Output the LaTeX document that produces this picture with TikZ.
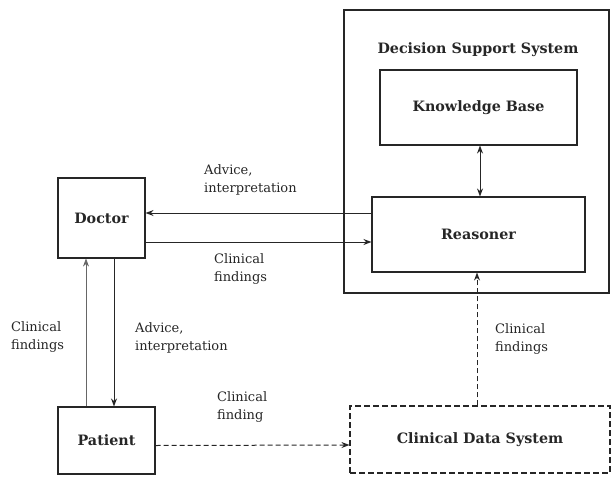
\documentclass[tikz,border=0pt]{standalone}
\usepackage{fontspec}
\setmainfont{DejaVu Serif}
\usetikzlibrary{arrows.meta}
\begin{document}
\begin{tikzpicture}[x=1pt,y=-1pt,
  box/.style={draw=black!85,line width=1.1pt,minimum width=#1,inner sep=0pt},
  boxlabel/.style={font=\fontsize{14.3}{16}\selectfont\bfseries,text=black!85},
  lbl/.style={font=\fontsize{13}{18.5}\selectfont,text=black!85,align=left,anchor=west,inner sep=0pt},
  arr/.style={draw=black!85,line width=1pt,-{Stealth[length=8pt,width=6pt]}},
  darr/.style={arr,dashed,dash pattern=on 5pt off 3pt}]
\useasboundingbox (0,0) rectangle (613,479);
% outer DSS
\node[box=265pt,minimum height=283pt,line width=1.3pt] (DSS) at (476.5,151.5) {};
\node[boxlabel] (title) at (478,50) {Decision Support System};
\node[box=197pt,minimum height=75pt,boxlabel] (KB) at (478.5,107.5) {Knowledge Base};
\node[box=213pt,minimum height=75pt,boxlabel] (R) at (478.5,234.5) {Reasoner};
\node[box=87pt,minimum height=80pt,boxlabel] (D) at (101.5,218) {Doctor};
\node[box=97pt,minimum height=67pt,boxlabel] (P) at (106.5,440.5) {Patient};
\node[box=260pt,minimum height=67pt,boxlabel,dashed,dash pattern=on 6pt off 3pt] (C) at (480,439.5) {Clinical Data System};
% arrows
\draw[arr,{Stealth[length=8pt,width=6pt]}-{Stealth[length=8pt,width=6pt]},line width=0.9pt] ([xshift=1.5pt]KB.south) -- ([xshift=1.5pt]R.north);
\draw[arr] ([yshift=21.5pt]R.west) -- ([yshift=5pt]D.east);
\draw[arr] ([yshift=-24pt]D.east) -- ([yshift=-7.5pt]R.west);
\draw[arr] ([xshift=12.5pt]D.south) -- ([xshift=7.5pt]P.north);
\draw[arr,line width=0.7pt,draw=black!60] ([xshift=-20.5pt]P.north) -- ([xshift=-15.5pt]D.south);
\draw[darr] ([yshift=-5pt]P.east) -- ([yshift=-5.5pt]C.west);
\draw[darr] ([xshift=-3pt]C.north) -- ([xshift=-1.5pt]R.south);
% labels
\node[lbl] (l1) at (204,180) {Advice,\\interpretation};
\node[lbl] (l2) at (214,269) {Clinical\\findings};
\node[lbl] (l3) at (11,337) {Clinical\\findings};
\node[lbl] (l4) at (135,338) {Advice,\\interpretation};
\node[lbl] (l5) at (217,407) {Clinical\\finding};
\node[lbl] (l6) at (495,339) {Clinical\\findings};
\end{tikzpicture}
\end{document}
